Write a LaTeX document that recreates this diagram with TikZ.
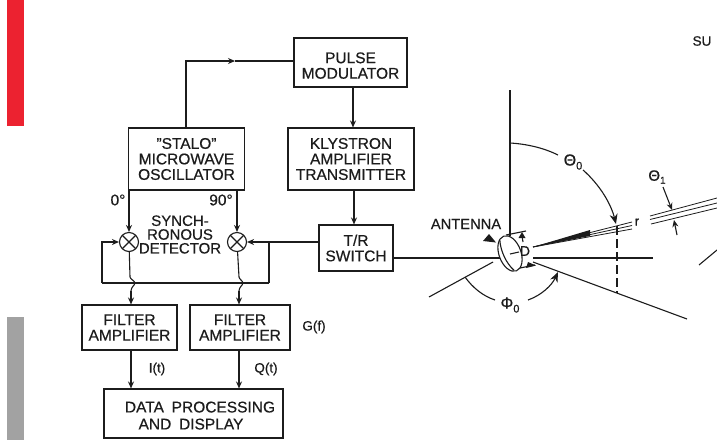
\documentclass[tikz,border=0pt]{standalone}
\usepackage{fontspec}
\setmainfont[FakeBold=0.5]{Liberation Sans}
\usetikzlibrary{arrows.meta,calc}
\definecolor{inkc}{HTML}{1C1C1C}
\definecolor{redbar}{HTML}{EC2230}
\definecolor{graybar}{HTML}{A2A2A2}
\tikzset{
  boxn/.style={draw=inkc,line width=1.1pt,inner sep=0pt,align=center,font=\fontsize{15.5}{15.5}\selectfont,text=inkc},
  lab/.style={inner sep=0pt,align=center,font=\fontsize{15.5}{15.5}\selectfont,text=inkc},
  wire/.style={draw=inkc,line width=1.1pt},
  arr/.style={wire,-{Stealth[length=7pt,width=6pt]}},
  bigarr/.style={wire,-{Stealth[length=10pt,width=8pt]}},
  mixer/.style={draw=inkc,line width=1.1pt,circle,minimum size=19pt,inner sep=0pt,
    path picture={\draw[inkc,line width=1.1pt] (path picture bounding box.north west)--(path picture bounding box.south east)
      (path picture bounding box.north east)--(path picture bounding box.south west);}},
}
\begin{document}
\begin{tikzpicture}[x=1pt,y=-1pt]
\useasboundingbox (0,0) rectangle (717,440);
\fill[white] (0,0) rectangle (717,440);
\fill[redbar] (7,0) rectangle (24,126);
\fill[graybar] (7,317) rectangle (24,440);

\node[boxn,minimum width=113pt,minimum height=49pt] (pulse) at (350.5,62.5) {\rule{0pt}{17pt}PULSE\\MODULATOR};
\node[boxn,minimum width=126pt,minimum height=62pt] (kly) at (351,159) {KLYSTRON\\AMPLIFIER\\TRANSMITTER};
\node[boxn,minimum width=116pt,minimum height=62pt] (stalo) at (186.5,159) {"STALO"\\MICROWAVE\\OSCILLATOR};
\node[boxn,minimum width=74pt,minimum height=46pt] (tr) at (356,248) {T/R\\SWITCH};
\node[boxn,minimum width=95pt,minimum height=45pt] (f1) at (129.5,327.5) {FILTER\\AMPLIFIER};
\node[boxn,minimum width=100pt,minimum height=45pt] (f2) at (240,327.5) {FILTER\\AMPLIFIER};
\node[boxn,minimum width=179pt,minimum height=49pt,font=\fontsize{15.5}{17}\selectfont] (data) at (193.5,413.5) {\rule{0pt}{15pt}\hspace*{13pt}DATA\enspace PROCESSING\\AND\enspace DISPLAY\hspace*{5pt}};
\node[mixer] (m1) at (129,242) {};
\node[mixer] (m2) at (237,242) {};

\node[lab] (zero) at (118,200) {0°};
\node[lab] (ninety) at (221,200) {90°};
\node[lab,font=\fontsize{15}{13.8}\selectfont] (sync) at (180,234.5) {SYNCH-\\RONOUS\\DETECTOR};
\node[lab,font=\fontsize{13.5}{13.5}\selectfont] (gf) at (314,327) {G(f)};
\node[lab,font=\fontsize{13.5}{13.5}\selectfont] (it) at (157,369) {I(t)};
\node[lab,font=\fontsize{13.5}{13.5}\selectfont] (qt) at (266,369) {Q(t)};
\node[lab,font=\fontsize{14.7}{14.7}\selectfont] (ant) at (466,224) {ANTENNA};
\node[lab,font=\fontsize{13.5}{13.5}\selectfont] (su) at (702,41) {SU};
\node[lab,font=\fontsize{16}{16}\selectfont] (th0) at (573,162) {Θ\raisebox{-4pt}{\fontsize{11}{11}\selectfont 0}};
\node[lab,font=\fontsize{15}{15}\selectfont] (th1) at (657,177) {Θ\raisebox{-3pt}{\fontsize{10}{10}\selectfont 1}};
\node[lab,font=\fontsize{16}{16}\selectfont] (ph0) at (510,305) {Φ\raisebox{-4pt}{\fontsize{11}{11}\selectfont 0}};
\node[lab,font=\fontsize{13}{13}\selectfont] (rr) at (637,222) {r};

% block connectors
\coordinate (pm) at (235,61);
\draw[arr] (stalo.north -| 186,0) |- (pm);
\draw[wire] (pm) -- (pulse.west |- pm);
\draw[arr] (pulse.south -| 353,0) -- (kly.north -| 353,0);
\draw[arr] (kly.south -| 354,0) -- (tr.north -| 354,0);
\draw[arr] (stalo.south -| m1) -- (m1);
\draw[arr] (stalo.south -| m2) -- (m2);
\draw[arr] (tr.west |- m2) -- (m2);
\coordinate (lc) at (102,283);
\coordinate (rc) at (269,283);
\draw[wire] (rc) -- (lc);
\draw[arr] (lc) |- (m1);
\draw[wire] (rc) -- (rc |- m2);
\draw[wire] (m1) -- (130,277) .. controls (130,279) and (135,281) .. (135,283) .. controls (135,285) and (131,287) .. (131,291);
\draw[arr] (131,291) -- (f1.north -| 131,0);
\draw[wire] (m2) -- (239,277) .. controls (239,279) and (243,281) .. (243,283) .. controls (243,285) and (239,287) .. (239,291);
\draw[arr] (239,291) -- (f2.north -| 239,0);
\draw[arr] (f1.south -| 131,0) -- (data.north -| 131,0);
\draw[arr] (f2.south -| 239,0) -- (data.north -| 239,0);
\draw[wire] (tr.east |- 0,258) -- (500,258);
\draw[wire] (533,258) -- (653,258);

% geometry
\coordinate (axt) at (510,90);
\coordinate (axb) at (510,236);
\draw[wire] (axt) -- (axb);
\draw[wire] (429,297) -- (493,262);
\draw[wire] (533,262) -- (687,319);
\draw[wire,dash pattern=on 9pt off 4pt] (617,226) -- (617,293);
\draw[wire] (699,265) -- (717,250);

% antenna
\begin{scope}[shift={(510,253.5)},rotate=20]
\draw[wire,fill=white] (0,0) ellipse (11 and 18.5);
\draw[wire] (-5,-16) .. controls (-8,-6) and (-7,8) .. (-2,17);
\end{scope}
\draw[wire] (506,235) -- (526,231);
\draw[wire] (520,268) -- (535,265);
\draw[wire] (510,254) -- (519,252);
\fill[inkc] (522,232) -- (518.5,238) -- (525.5,238) -- cycle;
\draw[wire] (522,236) -- (523,242);
\node[lab,font=\fontsize{14}{14}\selectfont] (dd) at (525,251) {D};
\fill[inkc] (528,262) -- (536,265.5) -- (526,268) -- cycle;
\fill[inkc] (489,234) -- (483,241) -- (496,242.5) -- cycle;

% beam
\fill[inkc] (533,247) -- (590,230) -- (590,236) -- cycle;
\draw[wire,line width=.8pt] (533,247) -- (632,222);
\draw[wire,line width=.8pt] (533,247) -- (632,229);
\draw[wire,line width=.8pt] (533,247) -- (632,225.5);
\draw[wire,line width=.8pt] (650,216) -- (717,198);
\draw[wire,line width=.8pt] (650,219.5) -- (717,203);
\draw[wire,line width=.8pt] (651,224) -- (717,208);

% angles
\draw[wire] (510,143) .. controls (527,144) and (544,148) .. (558,155);
\draw[bigarr] (583,170) .. controls (600,185) and (611,204) .. (616,224);
\draw[arr] (663,187) -- (672,210);
\draw[arr] (677,235) -- (674,220);
\draw[wire] (465,277) .. controls (473,288) and (483,296) .. (495,300);
\draw[bigarr] (528,300) .. controls (542,295) and (552,285) .. (558,272);
\end{tikzpicture}
\end{document}
